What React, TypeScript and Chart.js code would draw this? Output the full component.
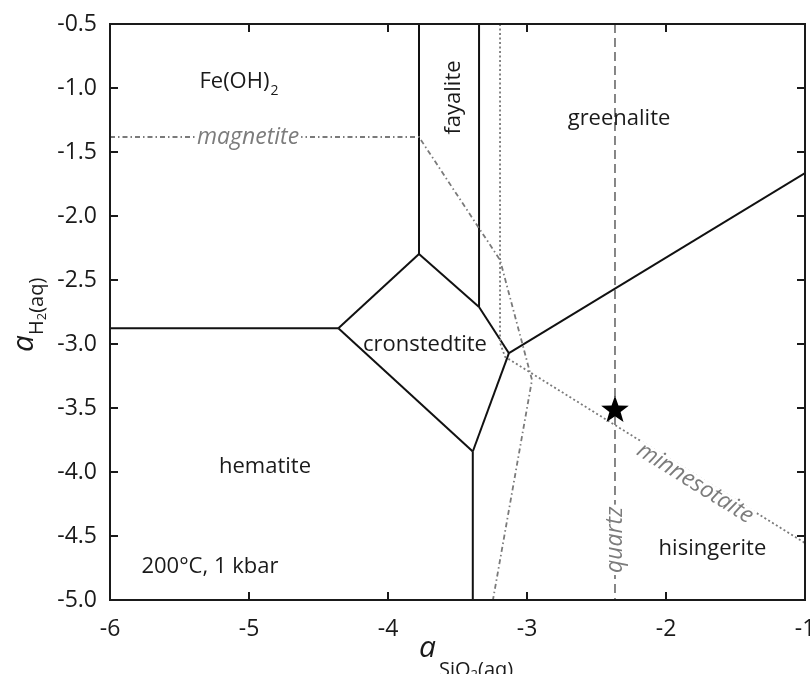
import React, { useEffect, useRef } from 'react';
import { Chart, registerables } from 'chart.js';
Chart.register(...registerables);

const FONT = '"Open Sans", "DejaVu Sans", sans-serif';

// axis ticks
const xTicks = [-6, -5, -4, -3, -2, -1];
const yTicks = [-0.5, -1.0, -1.5, -2.0, -2.5, -3.0, -3.5, -4.0, -4.5, -5.0];

// solid phase boundaries
const hematiteFeOH2X = [-6, -4.357];
const hematiteFeOH2Y = [-2.877, -2.877];
const feOH2CronX = [-4.357, -3.777];
const feOH2CronY = [-2.877, -2.297];
const feOH2FayX = [-3.777, -3.777];
const feOH2FayY = [-2.297, -0.5];
const fayCronX = [-3.777, -3.345];
const fayCronY = [-2.297, -2.711];
const fayGreenX = [-3.345, -3.345];
const fayGreenY = [-2.711, -0.5];
const greenCronX = [-3.345, -3.13];
const greenCronY = [-2.711, -3.072];
const greenHisX = [-3.13, -1];
const greenHisY = [-3.072, -1.664];
const cronHisX = [-3.13, -3.39];
const cronHisY = [-3.072, -3.84];
const hemHisX = [-3.39, -3.39];
const hemHisY = [-3.84, -5];
const hemCronX = [-4.357, -3.39];
const hemCronY = [-2.877, -3.84];

// gray metastable boundaries
const magnetiteX = [-6, -3.777, -3.194, -2.964, -3.245];
const magnetiteY = [-1.383, -1.383, -2.344, -3.281, -5];
const minnesotaiteX = [-3.194, -3.194, -3.158, -1];
const minnesotaiteY = [-0.5, -2.99, -3.1, -4.555];
const quartzX = [-2.367, -2.367];
const quartzY = [-0.5, -5];

// star
const starX = [-2.367];
const starY = [-3.51];

const pts = (xs: number[], ys: number[]) => xs.map((x, i) => ({ x, y: ys[i] }));

const overlay = {
  id: 'overlay',
  afterDatasetsDraw(chart: any) {
    const { ctx, chartArea: a, scales } = chart;
    const xs = scales.x, ys = scales.y;
    const X = (v: number) => xs.getPixelForValue(v);
    const Y = (v: number) => ys.getPixelForValue(v);
    ctx.save();

    // star marker
    for (let k = 0; k < starX.length; k++) {
      const cx = X(starX[k]), cy = Y(starY[k]) + 1;
      const ro = 14.5, ri = 5.9;
      ctx.beginPath();
      for (let i = 0; i < 10; i++) {
        const r = i % 2 === 0 ? ro : ri;
        const ang = -Math.PI / 2 + (i * Math.PI) / 5;
        const px = cx + r * Math.cos(ang);
        const py = cy + r * Math.sin(ang);
        if (i === 0) ctx.moveTo(px, py);
        else ctx.lineTo(px, py);
      }
      ctx.closePath();
      ctx.fillStyle = '#000';
      ctx.fill();
    }

    const plain = (t: string, x: number, y: number, size = 22, color = '#1a1a1a') => {
      ctx.font = `${size}px ${FONT}`;
      ctx.fillStyle = color;
      ctx.textAlign = 'center';
      ctx.textBaseline = 'alphabetic';
      ctx.fillText(t, x, y);
    };

    // Fe(OH)2
    {
      ctx.font = `22px ${FONT}`;
      const w1 = ctx.measureText('Fe(OH)').width;
      ctx.font = `14px ${FONT}`;
      const w2 = ctx.measureText('2').width;
      const x0 = X(-5.076) - (w1 + w2) / 2;
      const yb = Y(-1.0);
      ctx.fillStyle = '#1a1a1a';
      ctx.textAlign = 'left';
      ctx.textBaseline = 'alphabetic';
      ctx.font = `22px ${FONT}`;
      ctx.fillText('Fe(OH)', x0, yb);
      ctx.font = `14px ${FONT}`;
      ctx.fillText('2', x0 + w1 + 1, yb + 7);
    }

    plain('greenalite', X(-2.338), Y(-1.289));
    plain('cronstedtite', X(-3.734), Y(-3.053));
    plain('hematite', X(-4.885), Y(-4.008));
    plain('200°C, 1 kbar', X(-5.281), Y(-4.789));
    plain('hisingerite', X(-1.666), Y(-4.648));

    // fayalite rotated
    ctx.save();
    ctx.translate(X(-3.482), Y(-1.074));
    ctx.rotate(-Math.PI / 2);
    plain('fayalite', 0, 0);
    ctx.restore();

    // gray italic labels with white background
    const grayLabel = (t: string, x: number, y: number, ang: number, size = 23) => {
      ctx.save();
      ctx.translate(x, y);
      ctx.rotate(ang);
      ctx.font = `italic ${size}px ${FONT}`;
      const w = ctx.measureText(t).width;
      ctx.fillStyle = '#fff';
      ctx.fillRect(-w / 2 - 2, -8, w + 4, 16);
      ctx.fillStyle = '#7c7c7c';
      ctx.textAlign = 'center';
      ctx.textBaseline = 'alphabetic';
      ctx.fillText(t, 0, 7);
      ctx.restore();
    };
    grayLabel('magnetite', X(-5.007), Y(-1.383), 0);
    grayLabel('quartz', X(-2.367), Y(-4.53), -Math.PI / 2);
    grayLabel('minnesotaite', X(-1.79), Y(-4.085), Math.atan2(Y(-4.555) - Y(-3.1), X(-1) - X(-3.158)));

    // frame
    ctx.strokeStyle = '#1a1a1a';
    ctx.lineWidth = 2;
    ctx.strokeRect(a.left, a.top, a.right - a.left, a.bottom - a.top);
    // inward ticks on all sides
    const tl = 8;
    ctx.beginPath();
    for (const t of xTicks) {
      const px = Math.round(X(t));
      ctx.moveTo(px, a.bottom); ctx.lineTo(px, a.bottom - tl);
      ctx.moveTo(px, a.top); ctx.lineTo(px, a.top + tl);
    }
    for (const t of yTicks) {
      const py = Math.round(Y(t));
      ctx.moveTo(a.left, py); ctx.lineTo(a.left + tl, py);
      ctx.moveTo(a.right, py); ctx.lineTo(a.right - tl, py);
    }
    ctx.stroke();

    // x tick labels
    ctx.fillStyle = '#1a1a1a';
    ctx.font = `23px ${FONT}`;
    ctx.textAlign = 'center';
    ctx.textBaseline = 'alphabetic';
    for (const t of xTicks) {
      ctx.fillText(String(t), X(t), a.bottom + 36);
    }

    // axis titles
    ctx.textAlign = 'left';
    // x title
    ctx.font = `italic 30px ${FONT}`;
    ctx.fillText('a', 419, 657);
    let cx = 439;
    ctx.font = `20px ${FONT}`;
    ctx.fillText('SiO', cx, 676);
    cx += ctx.measureText('SiO').width;
    ctx.font = `13px ${FONT}`;
    ctx.fillText('2', cx, 679);
    cx += ctx.measureText('2').width;
    ctx.font = `20px ${FONT}`;
    ctx.fillText('(aq)', cx, 676);
    // y title
    ctx.save();
    ctx.translate(33, 352);
    ctx.rotate(-Math.PI / 2);
    ctx.font = `italic 30px ${FONT}`;
    ctx.fillText('a', 0, 0);
    let cy = 17;
    ctx.font = `20px ${FONT}`;
    ctx.fillText('H', cy, 10);
    cy += ctx.measureText('H').width;
    ctx.font = `13px ${FONT}`;
    ctx.fillText('2', cy, 13);
    cy += ctx.measureText('2').width;
    ctx.font = `20px ${FONT}`;
    ctx.fillText('(aq)', cy, 10);
    ctx.restore();

    ctx.restore();
  },
};

export default function App() {
  const ref = useRef<HTMLCanvasElement>(null);
  useEffect(() => {
    if (!ref.current) return;
    const solid = (xs: number[], ys: number[]) => ({
      data: pts(xs, ys),
      showLine: true,
      borderColor: '#111',
      borderWidth: 2,
      pointRadius: 0,
      fill: false,
    });
    const gray = (xs: number[], ys: number[], dash: number[]) => ({
      data: pts(xs, ys),
      showLine: true,
      borderColor: '#7a7a7a',
      borderWidth: 1.8,
      borderDash: dash,
      pointRadius: 0,
      fill: false,
    });
    const chart = new Chart(ref.current, {
      type: 'scatter',
      data: {
        datasets: [
          gray(magnetiteX, magnetiteY, [5, 3, 1.5, 3]),
          gray(minnesotaiteX, minnesotaiteY, [2, 2.5]),
          gray(quartzX, quartzY, [9, 5]),
          solid(hematiteFeOH2X, hematiteFeOH2Y),
          solid(feOH2CronX, feOH2CronY),
          solid(feOH2FayX, feOH2FayY),
          solid(fayCronX, fayCronY),
          solid(fayGreenX, fayGreenY),
          solid(greenCronX, greenCronY),
          solid(greenHisX, greenHisY),
          solid(cronHisX, cronHisY),
          solid(hemHisX, hemHisY),
          solid(hemCronX, hemCronY),
        ],
      },
      options: {
        responsive: false,
        maintainAspectRatio: false,
        animation: false,
        layout: { padding: { left: 0, top: 24, right: 5, bottom: 0 } },
        plugins: { legend: { display: false }, tooltip: { enabled: false } },
        scales: {
          x: {
            type: 'linear',
            min: -6,
            max: -1,
            ticks: { display: false, stepSize: 1 },
            grid: { display: false, drawTicks: false },
            border: { display: false },
            afterFit(s: any) {
              s.height = 74;
              s.paddingLeft = 0;
              s.paddingRight = 0;
            },
          },
          y: {
            type: 'linear',
            min: -5,
            max: -0.5,
            ticks: {
              stepSize: 0.5,
              autoSkip: false,
              padding: 13,
              color: '#1a1a1a',
              font: { family: FONT, size: 23 },
              callback: (v: any) => Number(v).toFixed(1),
            },
            grid: { display: false, drawTicks: false },
            border: { display: false },
            afterFit(s: any) {
              s.width = 110;
              s.paddingTop = 0;
              s.paddingBottom = 0;
            },
          },
        },
      },
      plugins: [overlay],
    });
    return () => chart.destroy();
  }, []);
  return (
    <div style={{ position: 'fixed', left: 0, top: 0, width: 810, height: 674, overflow: 'hidden', background: '#fff' }}>
      <canvas ref={ref} width={810} height={674} />
    </div>
  );
}
